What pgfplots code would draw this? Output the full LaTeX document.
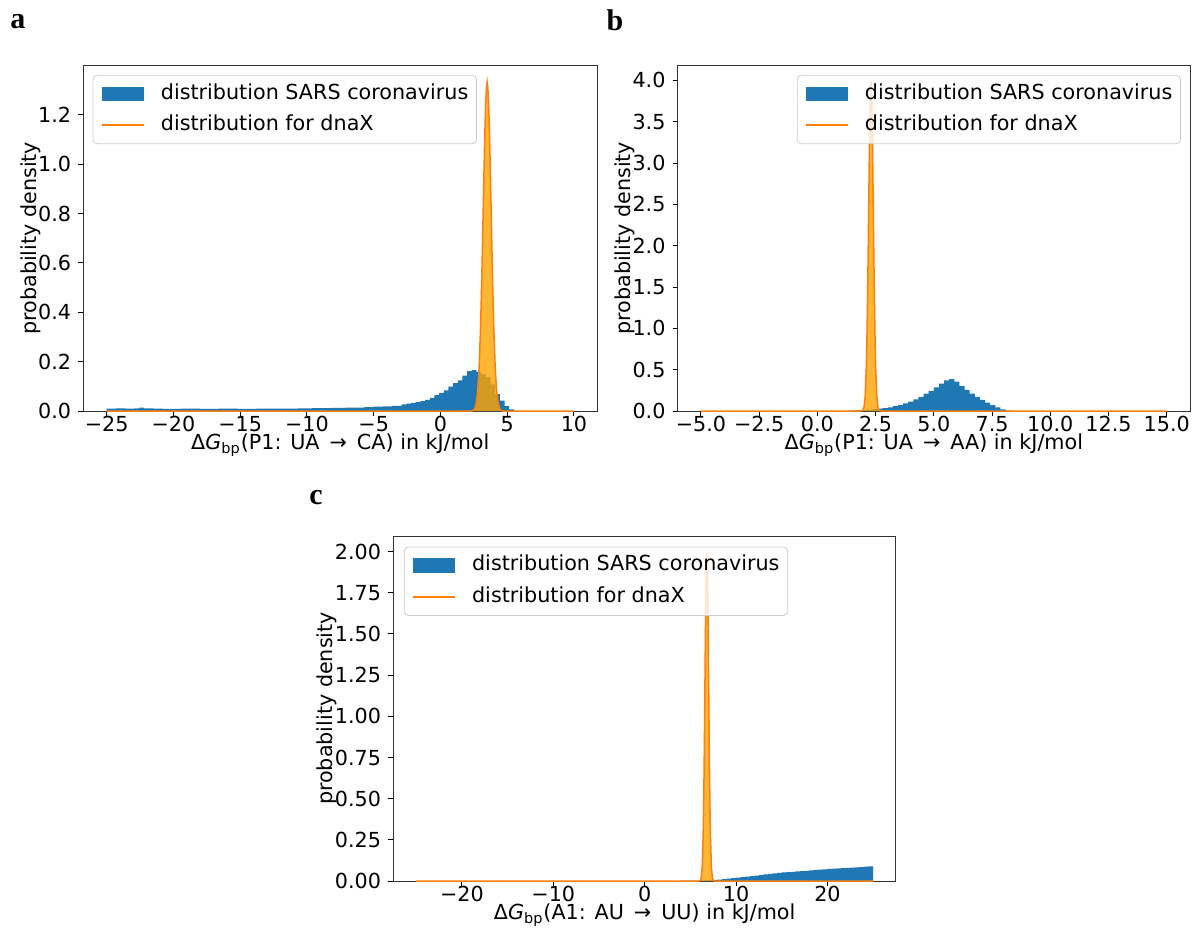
\documentclass[border=0pt]{standalone}
\usepackage{pgfplots}
\pgfplotsset{compat=1.18}
\usepackage{fontspec}
\setmainfont{DejaVu Sans}
\newfontfamily\panelfont{Liberation Serif}
\definecolor{mplblue}{HTML}{1F77B4}
\definecolor{mplorange}{HTML}{FF7F0E}
\definecolor{fillorange}{HTML}{FFA500}
\newcommand\fs{\fontsize{10.35pt}{12.4pt}\selectfont}
\pgfplotsset{
  myaxis/.style={
    scale only axis, anchor=north west, ymin=0,
    axis line style={black!80, line width=0.5pt},
    tick align=outside, tick pos=left,
    major tick length=2.6pt,
    every tick/.style={black, line width=0.5pt},
    tick label style={font=\fs},
    xticklabel style={inner sep=0pt, yshift=0.3pt},
    label style={font=\fs},
    xlabel style={inner sep=0pt, yshift=-0.8pt},
    ylabel shift=-8pt,
    ylabel={probability density},
    legend cell align=left,
    legend style={font=\fs, draw=black!20, rounded corners=2pt, fill=white,
      fill opacity=0.8, text opacity=1, inner xsep=4.15pt, inner ysep=4.15pt,
      row sep=5.2pt, column sep=8.3pt,
      nodes={inner sep=0pt, text height=7.8pt, text depth=2.55pt}},
  },
  hist/.style={fill=mplblue, draw=none, const plot mark left,
    legend image code/.code={\fill[mplblue, fill opacity=1, sharp corners] (0pt,-3.6pt) rectangle (20.7pt,3.6pt);}},
  gfill/.style={fill=fillorange, fill opacity=0.8, draw=none, forget plot},
  gline/.style={mplorange, line width=0.75pt, no marks,
    legend image code/.code={\draw[mplorange, line width=0.75pt, draw opacity=1] (0pt,0pt) -- (20.7pt,0pt);}},
}
\begin{document}
\begin{tikzpicture}
\useasboundingbox (0,0) rectangle (596.5pt,-465.5pt);
\node[font=\panelfont\bfseries\fontsize{15pt}{18pt}\selectfont] at (9pt,-11pt) {a};
\node[font=\panelfont\bfseries\fontsize{15pt}{18pt}\selectfont] at (307.5pt,-10pt) {b};
\node[font=\panelfont\bfseries\fontsize{15pt}{18pt}\selectfont] at (158pt,-249pt) {c};

% ---------------- panel a
\begin{axis}[myaxis, at={(41.65pt,-32.75pt)}, width=257pt, height=172.75pt,
  xmin=-26.75, xmax=11.75, ymax=1.40,
  xtick={-25,-20,-15,-10,-5,0,5,10},
  xticklabels={−25,−20,−15,−10,−5,0,5,10},
  ytick={0,0.2,0.4,0.6,0.8,1.0,1.2},
  yticklabels={0.0,0.2,0.4,0.6,0.8,1.0,1.2},
  xlabel={Δ\textit{G}\textsubscript{bp}(P1: UA\,\ →\ \,CA) in kJ/mol},
  legend style={at={(0,1)}, anchor=north west, xshift=4.7pt, yshift=-4.7pt},
]
\addplot[hist] coordinates {
(-25,0.010) (-24.3,0.011) (-23.6,0.010) (-22.9,0.011) (-22.55,0.014) (-22.2,0.011)
(-21.5,0.010) (-20.8,0.009) (-19.4,0.010) (-18.0,0.009) (-16.6,0.010) (-15.2,0.009)
(-13.8,0.010) (-12.1,0.010) (-10.7,0.011) (-9.6,0.012) (-8.2,0.013) (-7.1,0.014)
(-6.4,0.014) (-5.7,0.016) (-5.0,0.018) (-4.3,0.019) (-3.6,0.021) (-2.9,0.027)
(-2.55,0.030) (-2.2,0.033) (-1.85,0.036) (-1.5,0.040) (-1.15,0.045) (-0.8,0.053)
(-0.45,0.064) (-0.1,0.073) (0.25,0.084) (0.6,0.099) (0.95,0.113) (1.3,0.124)
(1.65,0.143) (2.0,0.162) (2.35,0.166) (2.7,0.160) (3.05,0.150) (3.4,0.137)
(3.75,0.108) (4.1,0.068) (4.45,0.042) (4.8,0.020) (5.15,0.007) (5.5,0.002) (5.85,0.002)
} \closedcycle;
\addlegendentry{distribution SARS coronavirus}
\addplot[gfill] coordinates {
(-25,0) (2.3,0) (2.4,0.0004) (2.5,0.0051) (2.6,0.0148) (2.7,0.038) (2.8,0.0874) (2.9,0.180)
(3.0,0.331) (3.05,0.432) (3.1,0.547) (3.15,0.673) (3.2,0.807) (3.25,0.940) (3.3,1.065)
(3.35,1.174) (3.4,1.258) (3.45,1.312) (3.5,1.333) (3.55,1.312) (3.6,1.258) (3.65,1.174)
(3.7,1.065) (3.75,0.940) (3.8,0.807) (3.85,0.673) (3.9,0.547) (3.95,0.432) (4.0,0.331)
(4.1,0.180) (4.2,0.0874) (4.3,0.038) (4.4,0.0148) (4.5,0.0051) (4.6,0.0004) (4.7,0) (10,0)
} \closedcycle;
\addplot[gline] coordinates {
(-25,0) (2.3,0) (2.4,0.0004) (2.5,0.0051) (2.6,0.0148) (2.7,0.038) (2.8,0.0874) (2.9,0.180)
(3.0,0.331) (3.05,0.432) (3.1,0.547) (3.15,0.673) (3.2,0.807) (3.25,0.940) (3.3,1.065)
(3.35,1.174) (3.4,1.258) (3.45,1.312) (3.5,1.333) (3.55,1.312) (3.6,1.258) (3.65,1.174)
(3.7,1.065) (3.75,0.940) (3.8,0.807) (3.85,0.673) (3.9,0.547) (3.95,0.432) (4.0,0.331)
(4.1,0.180) (4.2,0.0874) (4.3,0.038) (4.4,0.0148) (4.5,0.0051) (4.6,0.0004) (4.7,0) (10,0)
};
\addlegendentry{distribution for dnaX}
\end{axis}

% ---------------- panel b
\begin{axis}[myaxis, at={(338.85pt,-32.75pt)}, width=256.15pt, height=172.75pt,
  xmin=-6, xmax=16, ymax=4.18,
  xtick={-5,-2.5,0,2.5,5,7.5,10,12.5,15},
  xticklabels={−5.0,−2.5,0.0,2.5,5.0,7.5,10.0,12.5,15.0},
  ytick={0,0.5,1,1.5,2,2.5,3,3.5,4},
  yticklabels={0.0,0.5,1.0,1.5,2.0,2.5,3.0,3.5,4.0},
  xlabel={Δ\textit{G}\textsubscript{bp}(P1: UA\,\ →\ \,AA) in kJ/mol},
  legend style={at={(1,1)}, anchor=north east, xshift=-4.5pt, yshift=-4.7pt},
]
\addplot[hist] coordinates {
(1.26,0.005) (1.48,0.007) (1.70,0.010) (1.92,0.014) (2.14,0.018) (2.36,0.022)
(2.58,0.028) (2.80,0.034) (3.02,0.045) (3.24,0.058) (3.46,0.075) (3.68,0.092)
(3.90,0.115) (4.12,0.140) (4.34,0.170) (4.56,0.210) (4.78,0.245) (5.00,0.285)
(5.22,0.330) (5.44,0.370) (5.66,0.385) (5.88,0.355) (6.10,0.300) (6.32,0.255)
(6.54,0.210) (6.76,0.170) (6.98,0.135) (7.20,0.100) (7.42,0.070) (7.64,0.045)
(7.86,0.020) (8.08,0.006) (8.30,0.006)
} \closedcycle;
\addlegendentry{distribution SARS coronavirus}
\addplot[gfill] coordinates {
(-5,0) (1.8,0) (1.9,0.0013) (1.95,0.0087) (2.0,0.044) (2.05,0.175) (2.1,0.539) (2.125,0.862)
(2.15,1.292) (2.175,1.822) (2.2,2.414) (2.225,3.005) (2.25,3.512) (2.275,3.857) (2.3,3.98)
(2.325,3.857) (2.35,3.512) (2.375,3.005) (2.4,2.414) (2.425,1.822) (2.45,1.292) (2.475,0.862)
(2.5,0.539) (2.55,0.175) (2.6,0.044) (2.65,0.0087) (2.7,0.0013) (2.8,0) (15,0)
} \closedcycle;
\addplot[gline] coordinates {
(-5,0) (1.8,0) (1.9,0.0013) (1.95,0.0087) (2.0,0.044) (2.05,0.175) (2.1,0.539) (2.125,0.862)
(2.15,1.292) (2.175,1.822) (2.2,2.414) (2.225,3.005) (2.25,3.512) (2.275,3.857) (2.3,3.98)
(2.325,3.857) (2.35,3.512) (2.375,3.005) (2.4,2.414) (2.425,1.822) (2.45,1.292) (2.475,0.862)
(2.5,0.539) (2.55,0.175) (2.6,0.044) (2.65,0.0087) (2.7,0.0013) (2.8,0) (15,0)
};
\addlegendentry{distribution for dnaX}
\end{axis}

% ---------------- panel c
\begin{axis}[myaxis, at={(196.65pt,-268pt)}, width=251.35pt, height=172.5pt,
  xmin=-27.5, xmax=27.5, ymax=2.095,
  xtick={-20,-10,0,10,20},
  xticklabels={−20,−10,0,10,20},
  ytick={0,0.25,0.5,0.75,1,1.25,1.5,1.75,2},
  yticklabels={0.00,0.25,0.50,0.75,1.00,1.25,1.50,1.75,2.00},
  xlabel={Δ\textit{G}\textsubscript{bp}(A1: AU\,\ →\ \,UU) in kJ/mol},
  legend style={at={(0,1)}, anchor=north west, xshift=5.3pt, yshift=-5.3pt},
]
\addplot[hist] coordinates {
(3.5,0.001) (4.0,0.002) (4.5,0.002) (5.0,0.003) (5.5,0.003) (6.0,0.004) (6.5,0.005)
(7.0,0.006) (7.5,0.007) (8.0,0.009) (8.5,0.011) (9.0,0.014) (9.5,0.017) (10.0,0.020)
(10.5,0.023) (11.0,0.026) (11.5,0.029) (12.0,0.032) (12.5,0.036) (13.0,0.040) (13.5,0.044)
(14.0,0.047) (14.5,0.050) (15.0,0.052) (15.5,0.054) (16.0,0.056) (16.5,0.058) (17.0,0.060)
(17.5,0.062) (18.0,0.065) (18.5,0.067) (19.0,0.069) (19.5,0.071) (20.0,0.073) (20.5,0.075)
(21.0,0.077) (21.5,0.078) (22.0,0.080) (22.5,0.081) (23.0,0.083) (23.5,0.085) (24.0,0.087)
(24.5,0.089) (25.0,0.089)
} \closedcycle;
\addlegendentry{distribution SARS coronavirus}
\addplot[gfill] coordinates {
(-25,0) (5.9,0) (6.0,0.0007) (6.1,0.0044) (6.2,0.0222) (6.3,0.0876) (6.4,0.270) (6.45,0.432)
(6.5,0.648) (6.55,0.914) (6.6,1.210) (6.65,1.506) (6.7,1.761) (6.75,1.933) (6.8,1.995)
(6.85,1.933) (6.9,1.761) (6.95,1.506) (7.0,1.210) (7.05,0.914) (7.1,0.648) (7.15,0.432)
(7.2,0.270) (7.3,0.0876) (7.4,0.0222) (7.5,0.0044) (7.6,0.0007) (7.7,0) (25,0)
} \closedcycle;
\addplot[gline] coordinates {
(-25,0) (5.9,0) (6.0,0.0007) (6.1,0.0044) (6.2,0.0222) (6.3,0.0876) (6.4,0.270) (6.45,0.432)
(6.5,0.648) (6.55,0.914) (6.6,1.210) (6.65,1.506) (6.7,1.761) (6.75,1.933) (6.8,1.995)
(6.85,1.933) (6.9,1.761) (6.95,1.506) (7.0,1.210) (7.05,0.914) (7.1,0.648) (7.15,0.432)
(7.2,0.270) (7.3,0.0876) (7.4,0.0222) (7.5,0.0044) (7.6,0.0007) (7.7,0) (25,0)
};
\addlegendentry{distribution for dnaX}
\end{axis}
\end{tikzpicture}
\end{document}
